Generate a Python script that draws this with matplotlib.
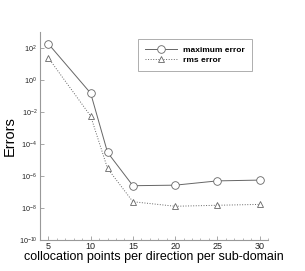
import math
import matplotlib
matplotlib.use("Agg")
import matplotlib.pyplot as plt
from matplotlib.ticker import FixedLocator, MultipleLocator, FuncFormatter

plt.rcParams['font.family'] = ['Liberation Sans', 'DejaVu Sans']
plt.rcParams['mathtext.fontset'] = 'custom'
plt.rcParams['mathtext.rm'] = 'Liberation Sans'

points = [5, 10, 12, 15, 20, 25, 30]
max_error = [180, 0.15, 3e-5, 2.5e-7, 2.7e-7, 5e-7, 5.6e-7]
rms_error = [24, 5.6e-3, 3e-6, 2.5e-8, 1.3e-8, 1.5e-8, 1.7e-8]
xticks = [5, 10, 15, 20, 25, 30]
yexps = [-10, -8, -6, -4, -2, 0, 2]

fig = plt.figure(figsize=(3.05, 2.71), dpi=100)
ax = fig.add_axes([0.131, 0.114, 0.748, 0.768])

gray = '#666666'
ax.plot(points, max_error, '-', color=gray, lw=0.7, marker='o', ms=5.5,
        mfc='white', mec=gray, mew=0.6, label='maximum error')
ax.plot(points, rms_error, ':', color=gray, lw=0.7, marker='^', ms=5,
        mfc='white', mec=gray, mew=0.6, label='rms error')

ax.set_yscale('log')
ax.set_xlim(4, 31)
ax.set_ylim(1e-10, 1e3)
ax.xaxis.set_major_locator(FixedLocator(xticks))
ax.xaxis.set_minor_locator(MultipleLocator(1))
ax.yaxis.set_major_locator(FixedLocator([10.0**e for e in yexps]))
ax.yaxis.set_minor_locator(FixedLocator([]))
ax.yaxis.set_major_formatter(FuncFormatter(lambda v, p: r'$10^{%d}$' % round(math.log10(v))))

for s in ['top', 'right']:
    ax.spines[s].set_visible(False)
for s in ['left', 'bottom']:
    ax.spines[s].set_color('#999999')
    ax.spines[s].set_linewidth(0.8)

ax.tick_params(axis='both', which='major', direction='in', length=3, width=0.6,
               colors='#999999', labelcolor='#222222', labelsize=5.2, pad=2)
ax.tick_params(axis='x', which='minor', direction='in', length=1.5, width=0.5, colors='#999999')
ax.tick_params(axis='x', which='major', labelsize=6.5, pad=1.5)

ax.set_xlabel('collocation points per direction per sub-domain', fontsize=9, labelpad=0)
ax.set_ylabel('Errors', fontsize=10.5, labelpad=1)

leg = ax.legend(loc='upper left', bbox_to_anchor=(0.43, 0.966),
                prop={'weight': 'bold', 'size': 6}, frameon=True, fancybox=False,
                edgecolor='#999999', handlelength=3.8, borderpad=0.85, labelspacing=0.3,
                handletextpad=0.8, borderaxespad=0)
leg.get_frame().set_linewidth(0.7)

fig.savefig('out.png', dpi=100)
